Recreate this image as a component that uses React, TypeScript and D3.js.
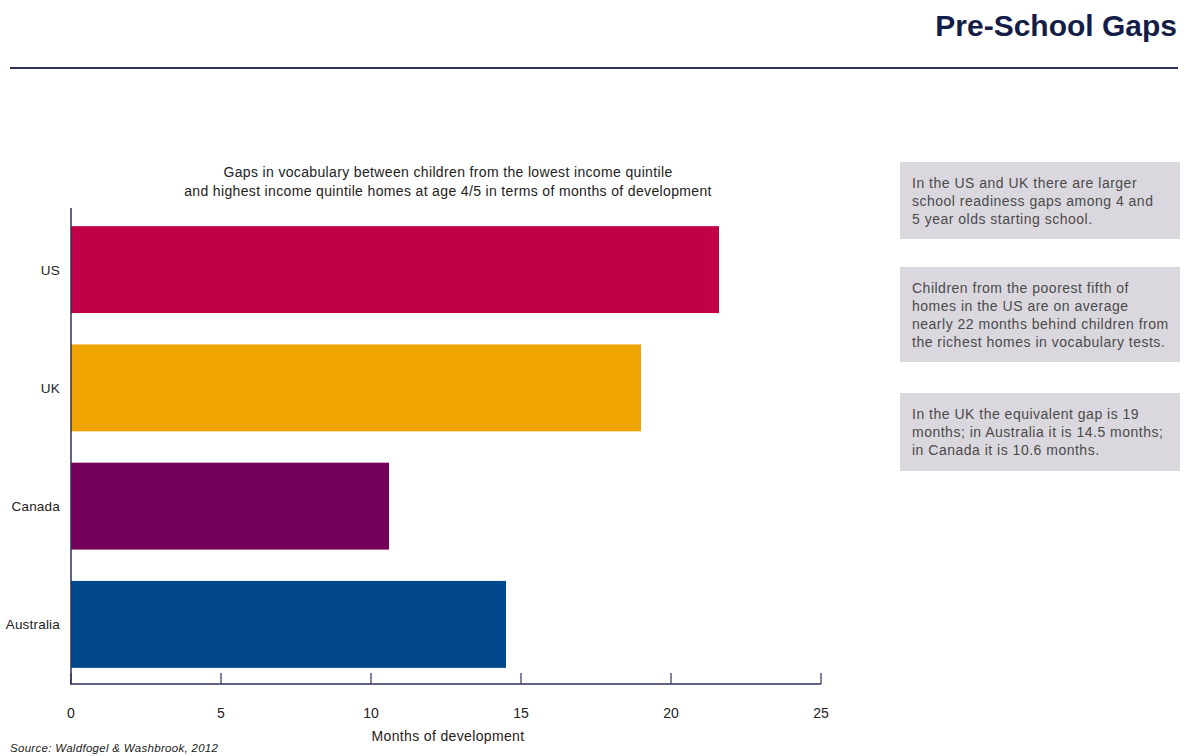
import React from "react";
import * as d3 from "d3";

const categories = ["US", "UK", "Canada", "Australia"];
const values = [21.6, 19.0, 10.6, 14.5];
const barColors = ["#c20048", "#f0a400", "#720058", "#00478c"];
const xTicks = [0, 5, 10, 15, 20, 25];
const chartTitle = [
  "Gaps in vocabulary between children from the lowest income quintile",
  "and highest income quintile homes at age 4/5 in terms of months of development",
];
const notes = [
  ["In the US and UK there are larger", "school readiness gaps among 4 and", "5 year olds starting school."],
  [
    "Children from the poorest fifth of",
    "homes in the US are on average",
    "nearly 22 months behind children from",
    "the richest homes in vocabulary tests.",
  ],
  ["In the UK the equivalent gap is 19", "months; in Australia it is 14.5 months;", "in Canada it is 10.6 months."],
];

const W = 1184;
const H = 756;
const FONT = "'Liberation Sans', Arial, Helvetica, sans-serif";
const NAVY = "#2b3159";

export default function App() {
  const x = d3.scaleLinear().domain([0, 25]).range([71, 821]);
  const y = d3
    .scaleBand<string>()
    .domain(categories)
    .range([209, 685])
    .paddingInner(0.265)
    .paddingOuter(0.145);
  const axisY = 684;
  const boxes = [
    { y: 162, h: 77 },
    { y: 267, h: 95 },
    { y: 393, h: 78 },
  ];

  return (
    <svg
      width={W}
      height={H}
      style={{ position: "absolute", left: 0, top: 0, background: "#fff" }}
      fontFamily={FONT}
    >
      <text x={1177} y={36} textAnchor="end" fontSize={30} fontWeight="bold" fill="#141d48">
        Pre-School Gaps
      </text>
      <line x1={10} x2={1178} y1={68} y2={68} stroke={NAVY} strokeWidth={2} />

      {chartTitle.map((t, i) => (
        <text
          key={i}
          x={448}
          y={177 + i * 19}
          textAnchor="middle"
          fontSize={14}
          letterSpacing={0.35}
          fill="#222"
        >
          {t}
        </text>
      ))}

      {categories.map((c, i) => (
        <g key={c}>
          <rect
            x={x(0)}
            y={y(c)}
            width={x(values[i]) - x(0)}
            height={y.bandwidth()}
            fill={barColors[i]}
          />
          <text
            x={60}
            y={(y(c) as number) + y.bandwidth() / 2 + 5}
            textAnchor="end"
            fontSize={13.5}
            letterSpacing={0.2}
            fill="#222"
          >
            {c}
          </text>
        </g>
      ))}

      <line x1={71} x2={71} y1={208} y2={axisY} stroke={NAVY} strokeWidth={1.5} />
      <line x1={70} x2={821} y1={axisY} y2={axisY} stroke={NAVY} strokeWidth={1.5} />
      {xTicks.map((t) => (
        <g key={t}>
          <line x1={x(t)} x2={x(t)} y1={axisY} y2={axisY - 11} stroke={NAVY} strokeWidth={1.2} />
          <text x={x(t)} y={718} textAnchor="middle" fontSize={14} fill="#222">
            {t}
          </text>
        </g>
      ))}
      <text x={448} y={741} textAnchor="middle" fontSize={14} letterSpacing={0.35} fill="#222">
        Months of development
      </text>

      {boxes.map((b, i) => (
        <g key={i}>
          <rect x={900} y={b.y} width={280} height={b.h} fill="#dad8de" />
          {notes[i].map((line, j) => (
            <text
              key={j}
              x={912}
              y={b.y + 26 + j * 18}
              fontSize={14}
              letterSpacing={0.5}
              fill="#4a4a4a"
            >
              {line}
            </text>
          ))}
        </g>
      ))}

      <text x={10} y={752} fontSize={11.5} letterSpacing={0.3} fontStyle="italic" fill="#222">
        Source: Waldfogel &amp; Washbrook, 2012
      </text>
    </svg>
  );
}
